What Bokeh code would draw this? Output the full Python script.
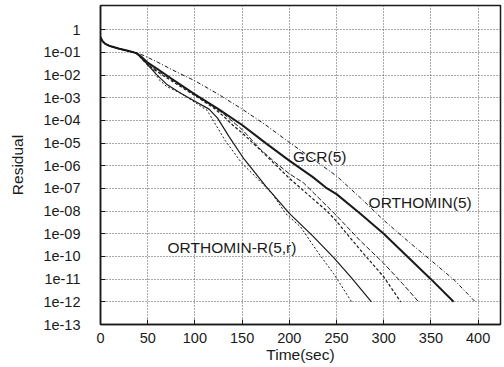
import numpy as np
from bokeh.plotting import figure
from bokeh.models import Range1d, FixedTicker, CustomJSTickFormatter
from bokeh.embed import file_html
from bokeh.resources import INLINE
from bokeh.core.properties import value

# ---- data (time in sec, log10 of residual) ----
t_common = [0, 2, 5, 10, 20, 30, 38]
l_common = [-0.33, -0.5, -0.62, -0.72, -0.84, -0.94, -1.03]

# ORTHOMIN(5) - dash-dot
t_a = [45, 60, 80, 100, 125, 150, 175, 200, 225, 250, 275, 300, 325, 350, 375, 397]
l_a = [-1.12, -1.42, -1.85, -2.25, -2.85, -3.5, -4.2, -4.97, -5.7, -6.45, -7.4, -8.4, -9.3, -10.17, -11.05, -12.0]

# GCR(5) - thick solid
t_b = [45, 50, 60, 75, 100, 125, 150, 175, 200, 225, 240, 250, 275, 300, 325, 350, 374]
l_b = [-1.25, -1.45, -1.72, -2.15, -2.85, -3.5, -4.2, -5.0, -5.77, -6.5, -7.0, -7.25, -8.1, -9.0, -10.0, -11.0, -12.0]

# middle pair
t_c = [45, 50, 60, 75, 100, 120, 130, 140, 150, 170, 185, 200, 215, 250, 275, 300, 320, 337]
l_c = [-1.3, -1.5, -1.8, -2.2, -2.85, -3.4, -3.7, -4.05, -4.4, -5.3, -5.85, -6.35, -6.75, -8.2, -9.3, -10.3, -11.2, -12.0]
t_d = [45, 50, 60, 75, 100, 120, 130, 140, 150, 168, 200, 240, 250, 275, 300, 318]
l_d = [-1.35, -1.55, -1.85, -2.25, -2.9, -3.45, -3.8, -4.2, -4.55, -5.25, -6.55, -8.0, -8.45, -9.7, -10.9, -12.0]

# ORTHOMIN-R(5,r) pair
t_e = [45, 50, 60, 70, 85, 100, 115, 124, 136, 152, 175, 200, 225, 247, 265, 287]
l_e = [-1.3, -1.55, -2.0, -2.4, -2.8, -3.15, -3.5, -3.9, -4.7, -5.7, -6.9, -8.1, -9.1, -10.05, -10.9, -12.0]
t_f = [45, 55, 62, 70, 85, 100, 113, 132, 150, 161, 182, 196, 212, 230, 247, 266]
l_f = [-1.35, -1.7, -2.2, -2.5, -2.8, -3.2, -3.56, -4.88, -5.9, -6.35, -7.23, -8.1, -8.7, -9.8, -10.76, -12.0]

xtick_vals = [0, 50, 100, 150, 200, 250, 300, 350, 400]
ytick_vals = [1e0, 1e-1, 1e-2, 1e-3, 1e-4, 1e-5, 1e-6, 1e-7, 1e-8, 1e-9, 1e-10, 1e-11, 1e-12, 1e-13]
ytick_labels = ["1", "1e-01", "1e-02", "1e-03", "1e-04", "1e-05", "1e-06", "1e-07",
                "1e-08", "1e-09", "1e-10", "1e-11", "1e-12", "1e-13"]

label_texts = ["GCR(5)", "ORTHOMIN(5)", "ORTHOMIN-R(5,r)"]
label_t = [204, 284, 71]
label_l = [-5.59, -7.6, -9.6]

FONT = "Liberation Sans"
INK = "#1a1a1a"

p = figure(width=504, height=367, output_backend="svg", toolbar_location=None,
           y_axis_type="log",
           x_range=Range1d(0, 423.7), y_range=Range1d(1e-13, 10 ** 1.07),
           min_border_left=100, min_border_right=4, min_border_top=5, min_border_bottom=43)

p.background_fill_color = "white"
p.border_fill_color = "white"
p.outline_line_color = INK
p.outline_line_width = 1.5
p.outline_line_alpha = 1.0

p.xaxis.ticker = FixedTicker(ticks=xtick_vals)
p.yaxis.ticker = FixedTicker(ticks=ytick_vals)
p.yaxis.formatter = CustomJSTickFormatter(args=dict(vals=ytick_vals, labels=ytick_labels), code="""
for (let i = 0; i < vals.length; i++) {
  if (Math.abs(Math.log10(tick) - Math.log10(vals[i])) < 1e-6) return labels[i];
}
return "";
""")

for ax in (p.xaxis, p.yaxis):
    ax.axis_line_color = INK
    ax.axis_line_width = 1.5
    ax.major_tick_in = 5
    ax.major_tick_out = 0
    ax.major_tick_line_color = INK
    ax.minor_tick_line_color = None
    ax.major_label_text_font = FONT
    ax.major_label_text_font_size = "14.5px"
    ax.major_label_text_color = INK
    ax.axis_label_text_font = FONT
    ax.axis_label_text_font_size = "15.5px"
    ax.axis_label_text_font_style = "normal"
    ax.axis_label_text_color = INK

p.xaxis.axis_label = "Time(sec)"
p.yaxis.axis_label = "Residual"
p.xaxis.major_label_standoff = 8
p.xaxis.axis_label_standoff = 0
p.yaxis.major_label_standoff = 20
p.yaxis.axis_label_standoff = 14

for g in (p.xgrid, p.ygrid):
    g.grid_line_color = "#444444"
    g.grid_line_dash = "1 2"
    g.grid_line_width = 1
    g.grid_line_alpha = 0.9

def series(t, l):
    tt = np.array(t_common + t, dtype=float)
    yy = np.power(10.0, np.array(l_common + l, dtype=float))
    return tt, yy

x, y = series(t_a, l_a)
p.line(x, y, line_color=INK, line_width=1, line_dash="4 2 1 2")
x, y = series(t_b, l_b)
p.line(x, y, line_color=INK, line_width=2)
x, y = series(t_c, l_c)
p.line(x, y, line_color=INK, line_width=1, line_dash="5 2")
x, y = series(t_d, l_d)
p.line(x, y, line_color=INK, line_width=1.2, line_dash="3 2")
x, y = series(t_e, l_e)
p.line(x, y, line_color=INK, line_width=1.2)
x, y = series(t_f, l_f)
p.line(x, y, line_color=INK, line_width=1, line_dash="2 2")

p.text(x=label_t, y=[10.0 ** v for v in label_l], text=label_texts,
       text_font=value(FONT), text_font_size=value("15.5px"), text_color=INK,
       text_align="left", text_baseline="middle")

open("out.html", "w").write(file_html(p, INLINE))
